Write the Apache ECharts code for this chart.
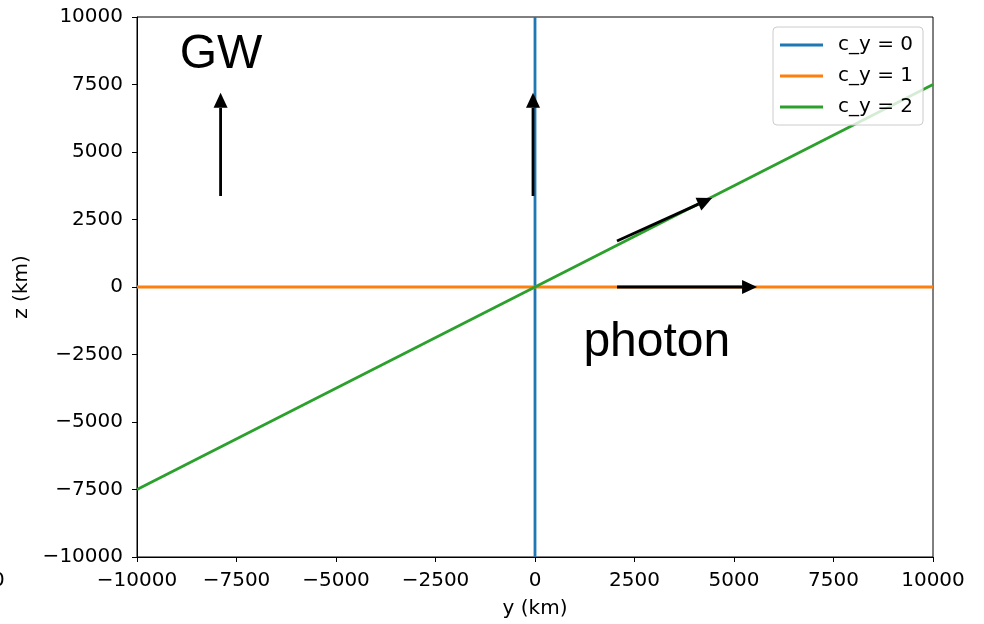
<!DOCTYPE html>
<html>
<head>
<meta charset="utf-8">
<title>c_y lines</title>
<script src="https://cdn.jsdelivr.net/npm/echarts@6/dist/echarts.min.js"></script>
<style>
  html, body { margin: 0; padding: 0; background: #fff; }
  #chart { width: 984px; height: 624px; }
</style>
</head>
<body>
<div id="chart"></div>
<script>
  // axis ticks
  var yTicks = [-10000, -7500, -5000, -2500, 0, 2500, 5000, 7500, 10000];
  var zTicks = [-10000, -7500, -5000, -2500, 0, 2500, 5000, 7500, 10000];

  // line series (y, z) end points
  var seriesNames = ['c_y = 0', 'c_y = 1', 'c_y = 2'];
  var line0 = [[0, -10000], [0, 10000]];
  var line1 = [[-10000, 0], [10000, 0]];
  var line2 = [[-10000, -7500], [10000, 7500]];
  var colors = ['#1f77b4', '#ff7f0e', '#2ca02c'];

  // arrows: [y0, z0, y1, z1] tail -> tip
  var arrows = [
    [-7900, 3370, -7900, 7190],
    [-50, 3370, -50, 7190],
    [2060, 1700, 4450, 3300],
    [2060, 0, 5580, 0]
  ];

  // text annotations
  var noteText = ['GW', 'photon'];
  var notePos = [[-7890, 8600], [3060, -2080]];

  function fmt(v) {
    return v < 0 ? '\u2212' + Math.abs(v) : String(v);
  }

  var tickFont = 'DejaVu Sans';
  var fs = 20;
  var chart = echarts.init(document.getElementById('chart'));

  var lineData = [line0, line1, line2];
  var series = [];
  for (var i = 0; i < 3; i++) {
    series.push({
      name: seriesNames[i],
      type: 'line',
      data: lineData[i],
      showSymbol: false,
      symbol: 'none',
      lineStyle: { color: colors[i], width: 2.8 },
      itemStyle: { color: colors[i] },
      z: 2 + i,
      animation: false
    });
  }

  series.push({
    type: 'custom',
    data: arrows,
    encode: { x: [0, 2], y: [1, 3] },
    z: 10,
    animation: false,
    renderItem: function (params, api) {
      var p0 = api.coord([api.value(0), api.value(1)]);
      var p1 = api.coord([api.value(2), api.value(3)]);
      var dx = p1[0] - p0[0], dy = p1[1] - p0[1];
      var len = Math.sqrt(dx * dx + dy * dy);
      var ux = dx / len, uy = dy / len;
      var hl = 15, hw = 7;
      var bx = p1[0] - ux * hl, by = p1[1] - uy * hl;
      return {
        type: 'group',
        children: [
          {
            type: 'line',
            shape: { x1: p0[0], y1: p0[1], x2: bx, y2: by },
            style: { stroke: '#000', lineWidth: 2.8 }
          },
          {
            type: 'polygon',
            shape: { points: [
              [p1[0], p1[1]],
              [bx - uy * hw, by + ux * hw],
              [bx + uy * hw, by - ux * hw]
            ] },
            style: { fill: '#000' }
          }
        ]
      };
    }
  });

  // big text notes placed through the axes
  series.push({
    type: 'custom',
    data: notePos,
    encode: { x: 0, y: 1 },
    z: 11,
    silent: true,
    animation: false,
    renderItem: function (params, api) {
      var p = api.coord([api.value(0), api.value(1)]);
      return {
        type: 'text',
        x: p[0], y: p[1],
        style: {
          text: noteText[params.dataIndex],
          fill: '#000',
          font: '48px "Liberation Sans"',
          align: 'center',
          verticalAlign: 'middle'
        }
      };
    }
  });

  chart.setOption({
    backgroundColor: '#fff',
    animation: false,
    grid: {
      left: 137, right: 51, top: 17, bottom: 67,
      show: true, borderColor: '#000', borderWidth: 1
    },
    legend: {
      data: seriesNames,
      z: 20,
      orient: 'vertical',
      left: 773, top: 27,
      padding: [7, 10, 7, 7],
      itemGap: 9,
      itemWidth: 43, itemHeight: 3,
      icon: 'rect',
      backgroundColor: 'rgba(255,255,255,0.8)',
      borderColor: '#ccc', borderWidth: 1, borderRadius: 4,
      textStyle: {
        fontFamily: tickFont, fontSize: fs, color: '#000',
        lineHeight: 22, padding: [0, 0, 0, 10]
      }
    },
    xAxis: {
      type: 'value',
      min: yTicks[0], max: yTicks[yTicks.length - 1], interval: 2500,
      name: 'y (km)', nameLocation: 'middle', nameGap: 42,
      nameTextStyle: { fontFamily: tickFont, fontSize: fs, color: '#000' },
      axisLine: { show: true, onZero: false, lineStyle: { color: '#000', width: 1 } },
      axisTick: { show: true, inside: false, length: 5, lineStyle: { color: '#000' } },
      axisLabel: { formatter: fmt, fontFamily: tickFont, fontSize: fs, color: '#000', margin: 14 },
      splitLine: { show: false }
    },
    yAxis: {
      type: 'value',
      min: zTicks[0], max: zTicks[zTicks.length - 1], interval: 2500,
      name: 'z (km)', nameLocation: 'middle', nameGap: 104,
      nameTextStyle: { fontFamily: tickFont, fontSize: fs, color: '#000' },
      axisLine: { show: true, onZero: false, lineStyle: { color: '#000', width: 1 } },
      axisTick: { show: true, inside: false, length: 5, lineStyle: { color: '#000' } },
      axisLabel: { formatter: fmt, fontFamily: tickFont, fontSize: fs, color: '#000', margin: 14 },
      splitLine: { show: false }
    },
    graphic: [
      {
        type: 'text', left: -8, top: 571,
        style: { text: '0', fontFamily: tickFont, fontSize: fs, fill: '#000' }
      }
    ],
    series: series
  });
</script>
</body>
</html>
